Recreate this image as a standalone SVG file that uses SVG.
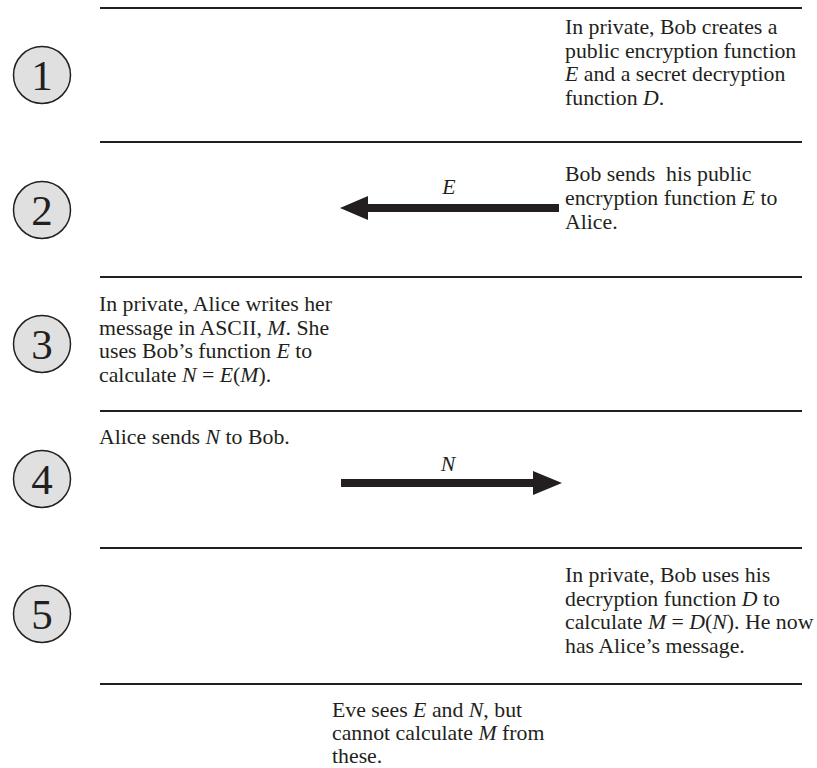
<svg xmlns="http://www.w3.org/2000/svg" width="817" height="768" viewBox="0 0 817 768">
<defs>
<style>
.t{font-family:"Liberation Serif","Times New Roman",serif;font-size:21.8px;fill:#231f20}
.i{font-style:italic}
.n{font-family:"Liberation Serif","Times New Roman",serif;font-size:43px;fill:#231f20;text-anchor:middle}
.c{fill:#e0e0e1;stroke:#231f20;stroke-width:1.5}
.sep{stroke:#231f20;stroke-width:2}
.ar{stroke:#231f20;stroke-width:8;fill:none}
.ah{fill:#231f20}
</style>
</defs>
<rect width="817" height="768" fill="#fff"/>
<g id="separators">
<line class="sep" x1="100" y1="8" x2="802" y2="8"/>
<line class="sep" x1="100" y1="142" x2="802" y2="142"/>
<line class="sep" x1="100" y1="277" x2="802" y2="277"/>
<line class="sep" x1="100" y1="411" x2="802" y2="411"/>
<line class="sep" x1="100" y1="548" x2="802" y2="548"/>
<line class="sep" x1="100" y1="684" x2="802" y2="684"/>
</g>
<g id="step1">
<circle class="c" cx="42" cy="75" r="28.5"/>
<text class="n" x="42" y="90">1</text>
<text class="t"><tspan x="565" y="34">In private, Bob creates a</tspan><tspan x="565" y="57.5">public encryption function</tspan><tspan x="565" y="81"><tspan class="i">E</tspan> and a secret decryption</tspan><tspan x="565" y="104.5">function <tspan class="i">D</tspan>.</tspan></text>
</g>
<g id="step2">
<circle class="c" cx="42" cy="210" r="28.5"/>
<text class="n" x="42" y="225">2</text>
<text class="t"><tspan x="565" y="181">Bob sends&#160; his public</tspan><tspan x="565" y="205">encryption function <tspan class="i">E</tspan> to</tspan><tspan x="565" y="229">Alice.</tspan></text>
</g>
<g id="step3">
<circle class="c" cx="42" cy="344" r="28.5"/>
<text class="n" x="42" y="359">3</text>
<text class="t"><tspan x="99" y="311">In private, Alice writes her</tspan><tspan x="99" y="334.5">message in ASCII, <tspan class="i">M</tspan>. She</tspan><tspan x="99" y="358">uses Bob’s function <tspan class="i">E</tspan> to</tspan><tspan x="99" y="381.5">calculate <tspan class="i">N</tspan> = <tspan class="i">E</tspan>(<tspan class="i">M</tspan>).</tspan></text>
</g>
<g id="step4">
<circle class="c" cx="42" cy="479" r="28.5"/>
<text class="n" x="42" y="494">4</text>
<text class="t"><tspan x="99" y="444">Alice sends <tspan class="i">N</tspan> to Bob.</tspan></text>
</g>
<g id="step5">
<circle class="c" cx="42" cy="614" r="28.5"/>
<text class="n" x="42" y="629">5</text>
<text class="t"><tspan x="565" y="582">In private, Bob uses his</tspan><tspan x="565" y="605.5">decryption function <tspan class="i">D</tspan> to</tspan><tspan x="565" y="629">calculate <tspan class="i">M</tspan> = <tspan class="i">D</tspan>(<tspan class="i">N</tspan>). He now</tspan><tspan x="565" y="652.5">has Alice’s message.</tspan></text>
</g>
<g id="eve">
<text class="t"><tspan x="332" y="717">Eve sees <tspan class="i">E</tspan> and <tspan class="i">N</tspan>, but</tspan><tspan x="332" y="740">cannot calculate <tspan class="i">M</tspan> from</tspan><tspan x="332" y="763">these.</tspan></text>
</g>
<g id="connectors">
<line class="ar" x1="559" y1="208" x2="366" y2="208"/>
<polygon class="ah" points="340,208 368,196 368,220"/>
<text class="t i" x="449" y="194" text-anchor="middle">E</text>
<line class="ar" x1="341" y1="483" x2="535" y2="483"/>
<polygon class="ah" points="562,483 533,471 533,495"/>
<text class="t i" x="448" y="471" text-anchor="middle">N</text>
</g>
</svg>
